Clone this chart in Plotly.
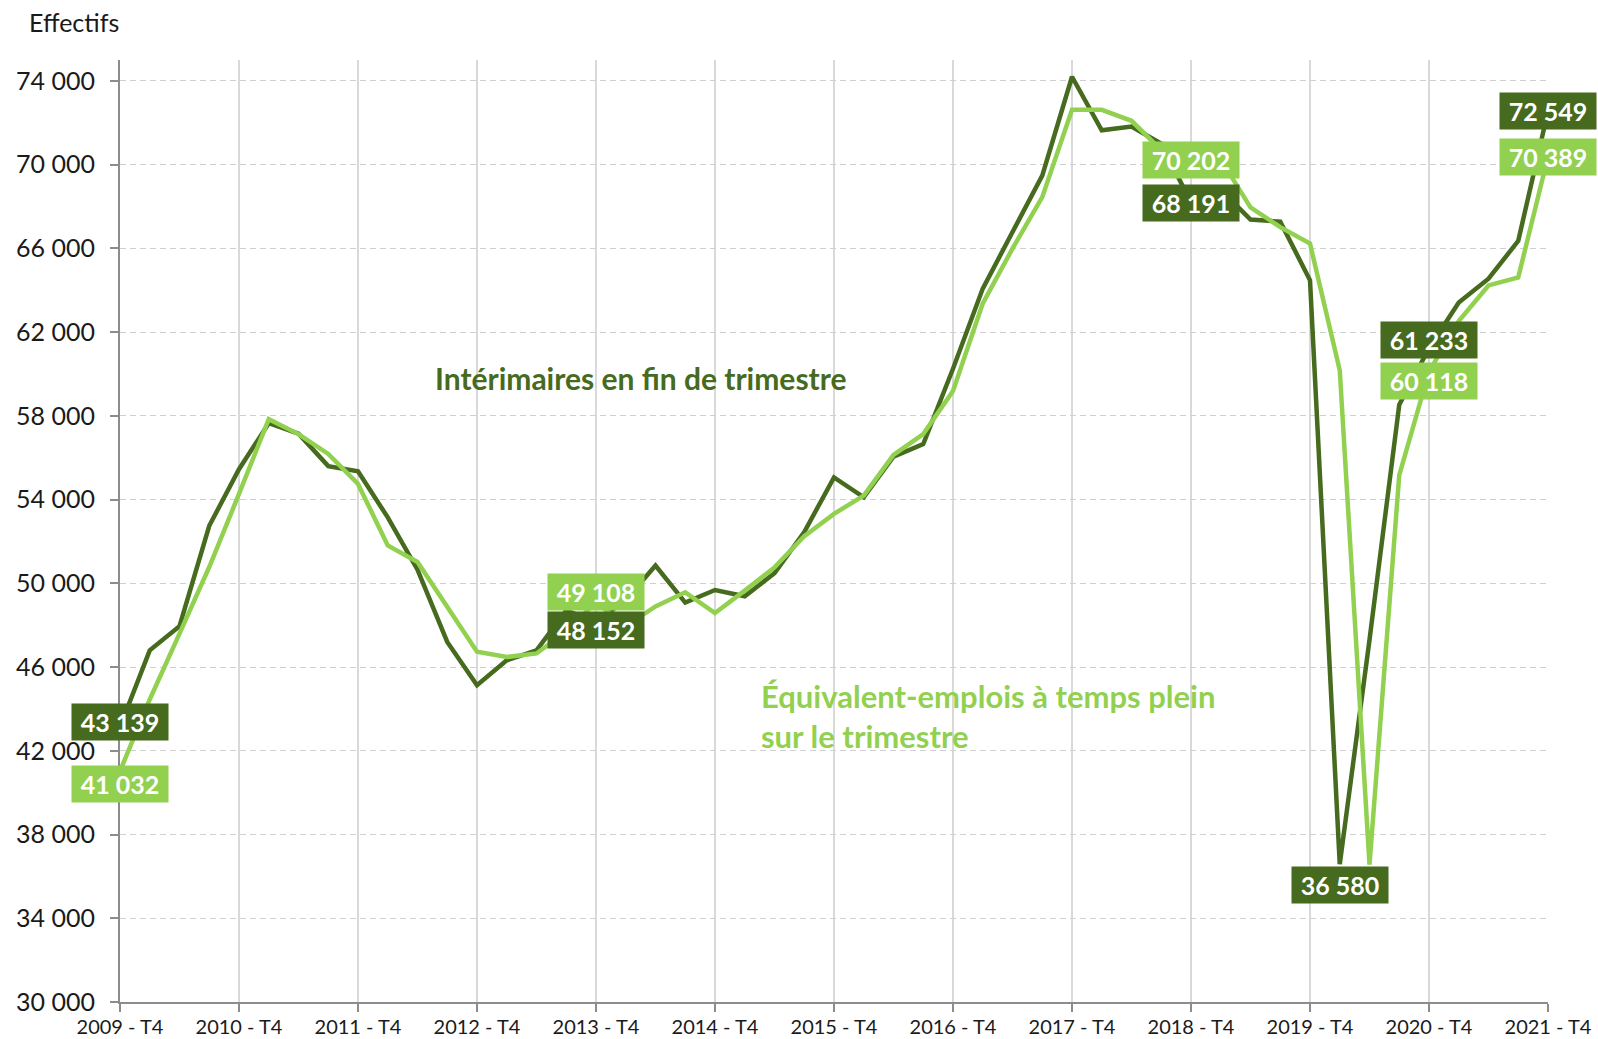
import plotly.graph_objects as go

years = list(range(2009, 2022))
categories = ["2009 - T4"] + [f"{y} - T{q}" for y in range(2010, 2022) for q in (1, 2, 3, 4)]
tick_labels = [f"{y} - T4" for y in years]

interimaires = [
    43139, 46800, 47950, 52750, 55450, 57650, 57150, 55600, 55350, 53150,
    50650, 47200, 45130, 46320, 46800, 48700, 48152, 49200, 50850, 49080,
    49680, 49380, 50480, 52450, 55060, 54110, 56050, 56650, 60250, 64080,
    66780, 69480, 74200, 71640, 71820, 71000, 68191, 68800, 67380, 67280,
    64480, 36580, 47300, 58530, 61233, 63420, 64550, 66360, 72549,
]
etp = [
    41032, 44450, 47600, 50780, 54270, 57840, 57130, 56180, 54750, 51810,
    51020, 48870, 46730, 46480, 46650, 47700, 49108, 47950, 48900, 49570,
    48580, 49650, 50760, 52250, 53320, 54190, 56140, 57130, 59190, 63370,
    65990, 68450, 72620, 72620, 72096, 70700, 70202, 70250, 67960, 67017,
    66230, 60180, 36560, 55170, 60118, 62525, 64230, 64614, 70389,
]

y_ticks = list(range(30000, 74001, 4000))
y_ticktext = [f"{v:,}".replace(",", " ") for v in y_ticks]

DARK = "#466A1E"
LIGHT = "#92D050"
FONT = "Lato, 'Open Sans', sans-serif"

fig = go.Figure()
fig.add_trace(go.Scatter(x=categories, y=interimaires, mode="lines",
                         line=dict(color=DARK, width=4.5), name="Intérimaires",
                         showlegend=False, hoverinfo="skip"))
fig.add_trace(go.Scatter(x=categories, y=etp, mode="lines",
                         line=dict(color=LIGHT, width=4.5), name="ETP",
                         showlegend=False, hoverinfo="skip"))

# data labels: (series, index, vertical pixel shift)
labels = [
    ("d", 0, 5), ("l", 0, -13),
    ("d", 16, -8), ("l", 16, 10),
    ("d", 36, 0), ("l", 36, 0),
    ("d", 41, -21),
    ("d", 44, 8), ("l", 44, -9),
    ("d", 48, 0), ("l", 48, 0),
]
annotations = []
for s, i, shift in labels:
    vals = interimaires if s == "d" else etp
    annotations.append(dict(
        x=categories[i], y=vals[i], xref="x", yref="y",
        text=f"{vals[i]:,}".replace(",", " "), showarrow=False,
        font=dict(family=FONT, size=25, color="white", weight="bold"),
        bgcolor=DARK if s == "d" else LIGHT, borderpad=1,
        width=94, height=34, yshift=shift, align="center", valign="middle",
    ))

annotations.append(dict(
    x=0, y=1, xref="paper", yref="paper", xanchor="left", yanchor="middle",
    xshift=-93, yshift=38, text="Effectifs", showarrow=False,
    font=dict(family=FONT, size=25, color="#1a1a1a"),
))
annotations.append(dict(
    x=0.3648, y=0.662, xref="paper", yref="paper", xanchor="center", yanchor="middle",
    text="Intérimaires en fin de trimestre", showarrow=False,
    font=dict(family=FONT, size=30, color=DARK, weight="bold"),
))
annotations.append(dict(
    x=0.4475, y=0.3036, xref="paper", yref="paper", xanchor="left", yanchor="middle",
    text="Équivalent-emplois à temps plein<br>sur le trimestre", showarrow=False,
    align="left",
    font=dict(family=FONT, size=31, color=LIGHT, weight="bold"),
))

fig.update_layout(
    width=1598, height=1039,
    margin=dict(l=120, r=50, t=60, b=37),
    paper_bgcolor="white", plot_bgcolor="white",
    font=dict(family=FONT, color="#1a1a1a"),
    annotations=annotations,
)
fig.update_xaxes(
    type="category", range=[0, 48], automargin=False,
    tickmode="array", tickvals=tick_labels, ticktext=tick_labels,
    showgrid=True, gridcolor="#d9d9d9", gridwidth=1.5,
    showline=True, linecolor="#8c8c8c", linewidth=2,
    ticks="outside", ticklen=8, tickcolor="#8c8c8c", tickwidth=1.5,
    tickfont=dict(family=FONT, size=20, color="#1a1a1a"),
    ticklabelstandoff=-2, zeroline=False,
)
fig.update_yaxes(
    range=[30000, 75000], automargin=False,
    tickmode="array", tickvals=y_ticks, ticktext=y_ticktext,
    showgrid=True, gridcolor="#d0d0d0", gridwidth=1.3, griddash="6px,4px",
    showline=True, linecolor="#8c8c8c", linewidth=2,
    ticks="outside", ticklen=8, tickcolor="#8c8c8c", tickwidth=1.5,
    tickfont=dict(family=FONT, size=25, color="#1a1a1a"),
    ticklabelstandoff=10, zeroline=False,
)

fig.write_html("out.html", config={"displayModeBar": False},
               post_script="document.body.style.margin='0';document.body.style.overflow='hidden';")
